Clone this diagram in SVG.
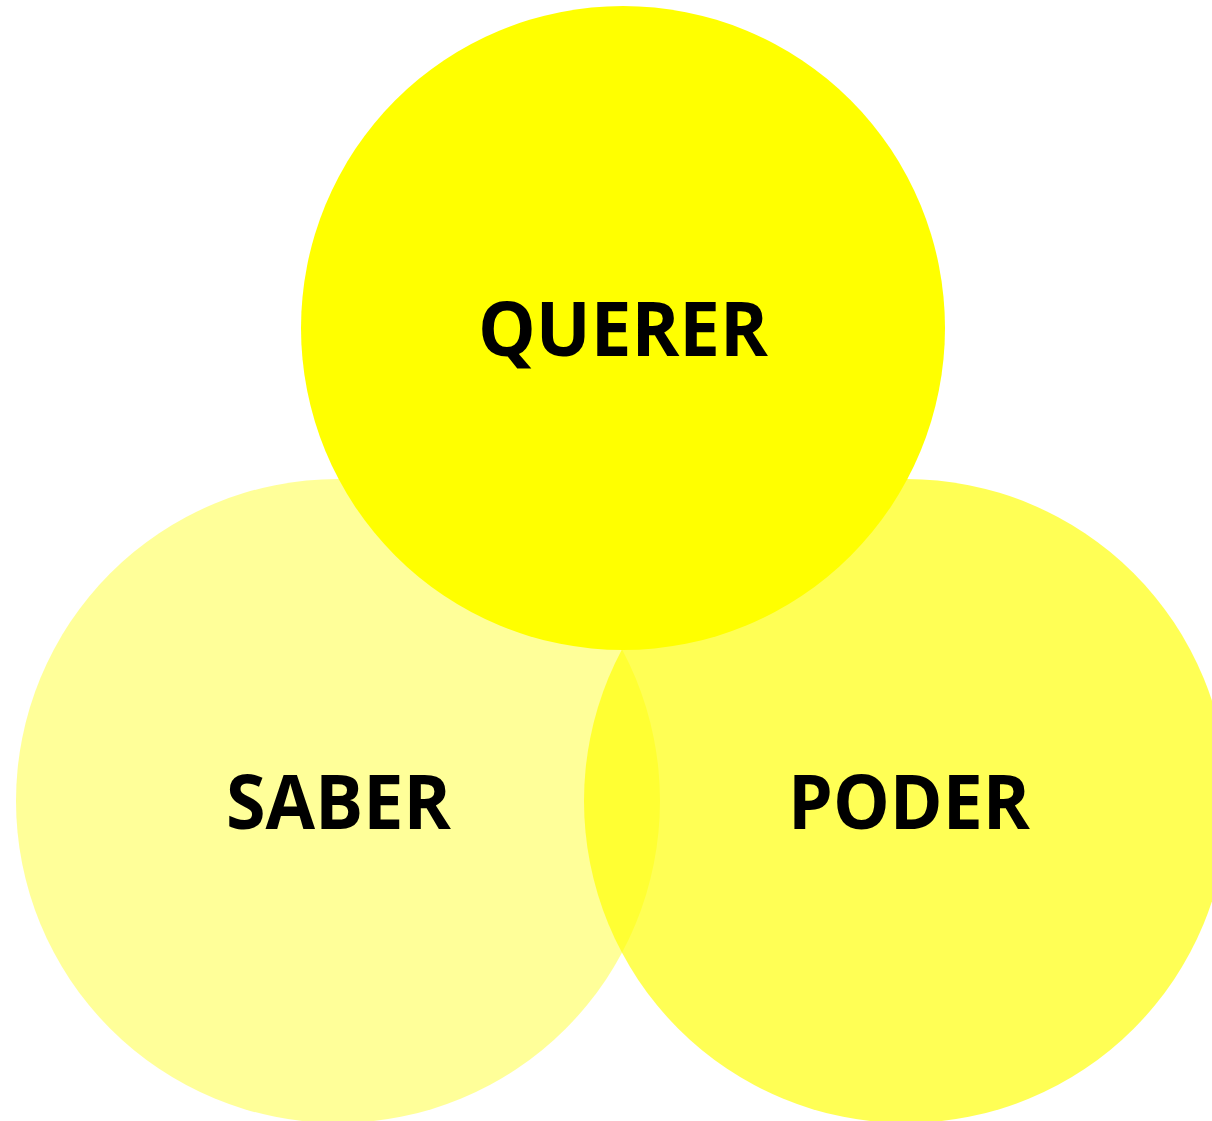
<svg xmlns="http://www.w3.org/2000/svg" width="1212" height="1121" viewBox="0 0 1212 1121">
<style>
.lbl{font-family:"Open Sans","Liberation Sans",sans-serif;font-weight:bold;font-size:76px;fill:#000;text-anchor:middle}
</style>
<rect width="1212" height="1121" fill="#fff"/>
<g id="saber">
<circle cx="338" cy="801" r="322" fill="#ffff00" fill-opacity="0.4"/>
<text class="lbl" x="338.5" y="829" textLength="225" lengthAdjust="spacingAndGlyphs">SABER</text>
</g>
<g id="poder">
<circle cx="906" cy="801" r="322" fill="#ffff00" fill-opacity="0.667"/>
<text class="lbl" x="909" y="829" textLength="242" lengthAdjust="spacingAndGlyphs">PODER</text>
</g>
<g id="querer">
<circle cx="623" cy="328" r="322" fill="#ffff00"/>
<text class="lbl" x="623" y="356" textLength="290" lengthAdjust="spacingAndGlyphs">QUERER</text>
</g>
<g id="connectors"/>
</svg>
